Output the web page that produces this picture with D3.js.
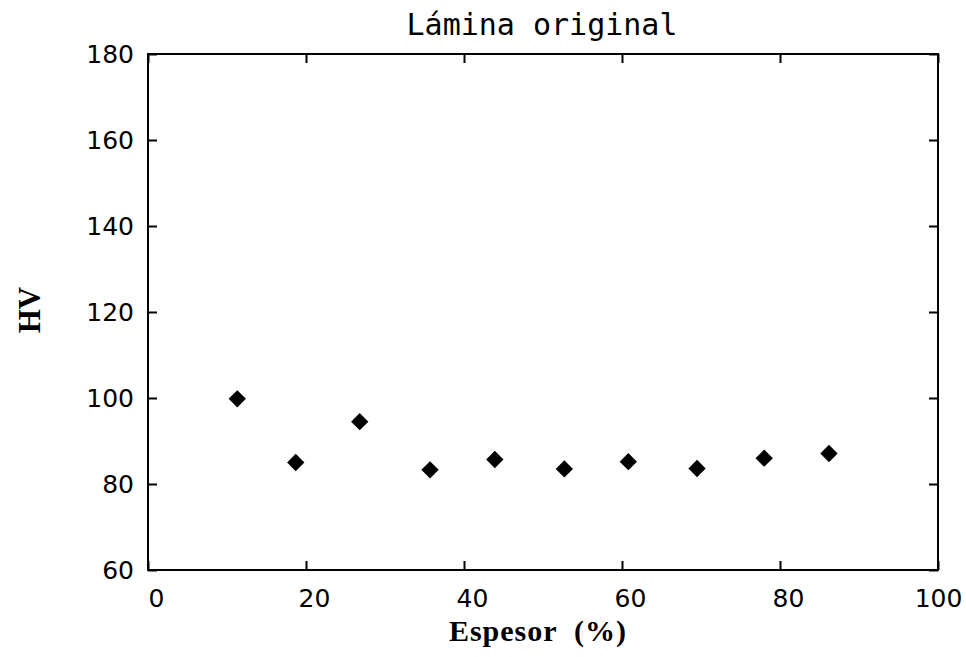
<!DOCTYPE html>
<html>
<head>
<meta charset="utf-8">
<script src="https://cdn.jsdelivr.net/npm/d3@7"></script>
<style>
  body { margin: 0; background: #fff; }
  svg { display: block; }
</style>
</head>
<body>
<div id="chart"></div>
<script>
// data
var espesor = [11.3, 18.7, 26.8, 35.7, 43.9, 52.7, 60.8, 69.5, 78.0, 86.2];
var hv = [99.8, 85.0, 94.5, 83.3, 85.7, 83.5, 85.2, 83.6, 86.0, 87.1];
var xTicks = [0, 20, 40, 60, 80, 100];
var yTicks = [60, 80, 100, 120, 140, 160, 180];

var width = 966;
var height = 657;
var plot = { left: 148, right: 938, top: 54, bottom: 570 };

var svg = d3.select("#chart").append("svg")
    .attr("width", width)
    .attr("height", height);

var x = d3.scaleLinear().domain([0, 100]).range([plot.left, plot.right]);
var y = d3.scaleLinear().domain([60, 180]).range([plot.bottom, plot.top]);

var tickFont = "'DejaVu Sans', sans-serif";

// bottom axis, ticks pointing in
svg.append("g")
    .attr("transform", "translate(0," + plot.bottom + ")")
    .call(d3.axisBottom(x).tickValues(xTicks).tickSizeInner(-9).tickSizeOuter(0).tickPadding(19))
    .call(g => g.selectAll("text").attr("dx", d => d === 100 ? 0 : 8));

// top axis, no labels
svg.append("g")
    .attr("transform", "translate(0," + plot.top + ")")
    .call(d3.axisTop(x).tickValues(xTicks).tickSizeInner(-9).tickSizeOuter(0).tickFormat(""));

// left axis
svg.append("g")
    .attr("transform", "translate(" + plot.left + ",0)")
    .call(d3.axisLeft(y).tickValues(yTicks).tickSizeInner(-9).tickSizeOuter(0).tickPadding(14));

// right axis, no labels
svg.append("g")
    .attr("transform", "translate(" + plot.right + ",0)")
    .call(d3.axisRight(y).tickValues(yTicks).tickSizeInner(-9).tickSizeOuter(0).tickFormat(""));

svg.selectAll(".domain").remove();
svg.selectAll(".tick line")
    .attr("stroke", "#000")
    .attr("stroke-width", 2);
svg.selectAll(".tick text")
    .attr("fill", "#000")
    .style("font-family", tickFont)
    .style("font-size", "25px");

// frame
svg.append("rect")
    .attr("x", plot.left)
    .attr("y", plot.top)
    .attr("width", plot.right - plot.left)
    .attr("height", plot.bottom - plot.top)
    .attr("fill", "none")
    .attr("stroke", "#000")
    .attr("stroke-width", 2);

// diamonds
svg.selectAll(".pt")
    .data(espesor)
    .enter()
    .append("path")
    .attr("class", "pt")
    .attr("d", d3.symbol().type(d3.symbolSquare).size(150))
    .attr("transform", (d, i) => "translate(" + x(d) + "," + y(hv[i]) + ") rotate(45)")
    .attr("fill", "#000");

// title
svg.append("text")
    .attr("x", 542)
    .attr("y", 35)
    .attr("text-anchor", "middle")
    .style("font-family", "'DejaVu Sans Mono', monospace")
    .style("font-size", "30px")
    .text("Lámina original");

// axis titles
svg.append("text")
    .attr("x", 538)
    .attr("y", 641)
    .attr("text-anchor", "middle")
    .attr("xml:space", "preserve")
    .style("font-family", "'Liberation Serif', serif")
    .style("font-weight", "bold")
    .style("font-size", "30px")
    .style("letter-spacing", "1px")
    .text("Espesor  (%)");

svg.append("text")
    .attr("transform", "translate(40,310) rotate(-90)")
    .attr("text-anchor", "middle")
    .style("font-family", "'Liberation Serif', serif")
    .style("font-weight", "bold")
    .style("font-size", "31px")
    .text("HV");
</script>
</body>
</html>
